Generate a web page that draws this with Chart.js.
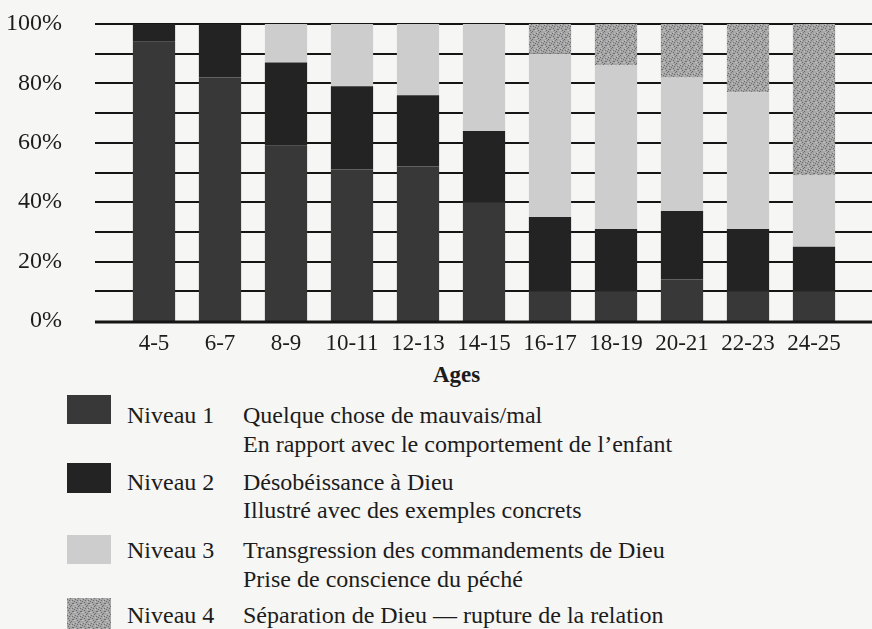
<!DOCTYPE html>
<html>
<head>
<meta charset="utf-8">
<script src="https://cdn.jsdelivr.net/npm/chart.js@4.4.1/dist/chart.umd.min.js"></script>
<style>
  body { margin: 0; background: #f6f6f4; }
  #wrap { position: relative; width: 872px; height: 629px; overflow: hidden;
          font-family: "Liberation Serif", "Times New Roman", serif; color: #1c1c1c; }
  #chartBox { position: absolute; left: 0; top: 0; width: 872px; height: 362px; }
  .sw { position: absolute; left: 67px; width: 44px; }
  .txt { position: absolute; font-size: 24px; line-height: 24px; white-space: nowrap; }
  #agesTitle { position: absolute; left: 433px; top: 363px; font-size: 23px; font-weight: bold; line-height: 23px; }
</style>
</head>
<body>
<div id="wrap">
  <div id="chartBox"><canvas id="myChart"></canvas></div>
  <div id="agesTitle">Ages</div>

  <div class="sw" id="sw1" style="top:395px;height:29px;"></div>
  <div class="txt" style="left:127px;top:403px;">Niveau 1</div>
  <div class="txt" style="left:243px;top:403px;">Quelque chose de mauvais/mal</div>
  <div class="txt" style="left:243px;top:432px;">En rapport avec le comportement de l’enfant</div>

  <div class="sw" id="sw2" style="top:463px;height:30px;"></div>
  <div class="txt" style="left:127px;top:470px;">Niveau 2</div>
  <div class="txt" style="left:243px;top:470px;">Désobéissance à Dieu</div>
  <div class="txt" style="left:243px;top:498px;">Illustré avec des exemples concrets</div>

  <div class="sw" id="sw3" style="top:535px;height:29px;"></div>
  <div class="txt" style="left:127px;top:538px;">Niveau 3</div>
  <div class="txt" style="left:243px;top:538px;">Transgression des commandements de Dieu</div>
  <div class="txt" style="left:243px;top:567px;">Prise de conscience du péché</div>

  <div class="sw" id="sw4" style="top:598px;height:31px;"></div>
  <div class="txt" style="left:127px;top:603px;">Niveau 4</div>
  <div class="txt" style="left:243px;top:603px;">Séparation de Dieu — rupture de la relation</div>
</div>

<script>
// data (percent of each age group)
const ages = ['4-5', '6-7', '8-9', '10-11', '12-13', '14-15', '16-17', '18-19', '20-21', '22-23', '24-25'];
const niveau1 = [94, 82, 59, 51, 52, 40, 10, 10, 14, 10, 10];
const niveau2 = [6, 18, 28, 28, 24, 24, 25, 21, 23, 21, 15];
const niveau3 = [0, 0, 13, 21, 24, 36, 55, 55, 45, 46, 24];
const niveau4 = [0, 0, 0, 0, 0, 0, 10, 14, 18, 23, 51];
const yLabelStep = 20;

const colN1 = '#383838';
const colN2 = '#232323';
const colN3 = '#cdcdcd';

// grainy fill for Niveau 4
function speckle(base, dots) {
    const c = document.createElement('canvas');
    c.width = 8; c.height = 8;
    const g = c.getContext('2d');
    g.fillStyle = base;
    g.fillRect(0, 0, 8, 8);
    g.fillStyle = dots;
    [[0,1],[3,0],[5,2],[1,4],[6,5],[2,6],[4,7],[7,3],[2,2],[5,5]].forEach(p => g.fillRect(p[0], p[1], 1, 1));
    g.fillStyle = '#c4c4c4';
    [[1,0],[4,3],[7,6],[0,6],[6,1]].forEach(p => g.fillRect(p[0], p[1], 1, 1));
    return c;
}
const n4Tile = speckle('#a6a6a6', '#6e6e6e');
const colN4 = document.createElement('canvas').getContext('2d').createPattern(n4Tile, 'repeat');

document.getElementById('sw1').style.background = colN1;
document.getElementById('sw2').style.background = colN2;
document.getElementById('sw3').style.background = colN3;
document.getElementById('sw4').style.background = 'url(' + n4Tile.toDataURL() + ')';

// horizontal rules every 10%, running past the bars on both sides
const fullGrid = {
    id: 'fullGrid',
    beforeDatasetsDraw(chart) {
        const ctx = chart.ctx;
        const y = chart.scales.y;
        ctx.save();
        ctx.strokeStyle = '#151515';
        ctx.lineWidth = 2;
        for (let v = 10; v <= 100; v += 10) {
            const py = Math.round(y.getPixelForValue(v));
            ctx.beginPath();
            ctx.moveTo(95, py);
            ctx.lineTo(chart.width, py);
            ctx.stroke();
        }
        ctx.restore();
    },
    afterDatasetsDraw(chart) {
        const ctx = chart.ctx;
        const py = Math.round(chart.scales.y.getPixelForValue(0)) + 1;
        ctx.save();
        ctx.strokeStyle = '#151515';
        ctx.lineWidth = 3;
        ctx.beginPath();
        ctx.moveTo(95, py);
        ctx.lineTo(chart.width, py);
        ctx.stroke();
        ctx.restore();
    }
};

const ctx = document.getElementById('myChart').getContext('2d');
const myChart = new Chart(ctx, {
    type: 'bar',
    data: {
        labels: ages,
        datasets: [
            { label: 'Niveau 1', data: niveau1, backgroundColor: colN1 },
            { label: 'Niveau 2', data: niveau2, backgroundColor: colN2 },
            { label: 'Niveau 3', data: niveau3, backgroundColor: colN3 },
            { label: 'Niveau 4', data: niveau4, backgroundColor: colN4 }
        ]
    },
    options: {
        responsive: true,
        maintainAspectRatio: false,
        animation: false,
        datasets: { bar: { categoryPercentage: 1, barPercentage: 0.64, borderWidth: 0 } },
        layout: { padding: { top: 24, right: 25, left: 0, bottom: 0 } },
        plugins: { legend: { display: false }, tooltip: { enabled: false } },
        scales: {
            x: {
                stacked: true,
                grid: { display: false },
                border: { display: false },
                ticks: { color: '#1c1c1c', padding: 1, maxRotation: 0, autoSkip: false,
                         font: { family: 'Liberation Serif', size: 23 } },
                afterFit(scale) {
                    scale.height = 41;
                    scale.paddingLeft = 0;
                    scale.paddingRight = 0;
                }
            },
            y: {
                stacked: true,
                min: 0,
                max: 100,
                grid: { display: false, drawTicks: false },
                border: { display: false },
                ticks: {
                    stepSize: 10,
                    autoSkip: false,
                    padding: 59,
                    color: '#1c1c1c',
                    font: { family: 'Liberation Serif', size: 24 },
                    callback: v => (v % yLabelStep === 0 ? v + '%' : '')
                },
                afterFit(scale) {
                    // the big label gap must not push the plot down
                    scale.width = 121;
                    scale.paddingTop = 0;
                    scale.paddingBottom = 0;
                }
            }
        }
    },
    plugins: [fullGrid]
});
</script>
</body>
</html>
